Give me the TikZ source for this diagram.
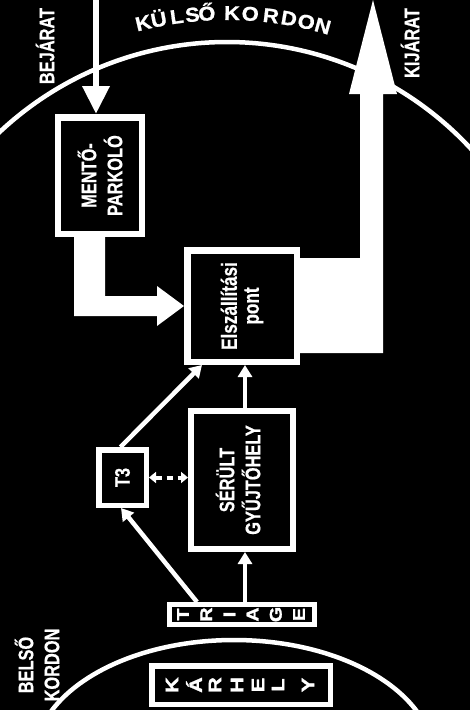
\documentclass[tikz,border=0pt]{standalone}
\usepackage{fontspec}
\setmainfont{Liberation Sans}
\newfontfamily\narrowfont{Liberation Sans Bold}[FakeStretch=0.78, FakeBold=0.6]
\newfontfamily\heavyfont{Liberation Sans Bold}[FakeBold=1.4]
\newfontfamily\arcfont{Liberation Sans Bold}[FakeBold=0.8, FakeStretch=1.1]
\usetikzlibrary{arrows.meta,calc}
\begin{document}
\begin{tikzpicture}[x=1pt,y=-1pt,
  box/.style={draw=white, line width=6.5pt, fill=black, inner sep=0pt},
  lbl/.style={text=white, font=\narrowfont\fontsize{21}{26}\selectfont, align=center, rotate=90, inner sep=0pt},
  arcl/.style={text=white, font=\arcfont\fontsize{20}{22}\selectfont, anchor=base, inner sep=0pt},
  letr/.style={text=white, font=\heavyfont\fontsize{17}{18}\selectfont, rotate=90, xscale=1.15, inner sep=0pt},
  conn/.style={draw=white, line width=4.5pt, -{Triangle[width=14pt,length=12pt]}},
  cordon/.style={draw=white, line width=4.5pt}]

\fill[black] (0,0) rectangle (470,710);
\useasboundingbox (0,0) rectangle (470,710);

\begin{scope}
  \clip (0,0) rectangle (470,710);
  \draw[cordon] (227,374) ++(215:332) arc[start angle=215, end angle=325, radius=332];
  \draw[cordon] (234,760) ellipse[x radius=200, y radius=120];
\end{scope}

% boxes
\node[box, minimum width=84pt, minimum height=116.5pt] (mp) at (100,175.5) {};
\node[box, minimum width=109.5pt, minimum height=111.5pt] (elsz) at (242,306) {};
\node[box, line width=5.5pt, minimum width=47.5pt, minimum height=55.5pt] (t3) at (122.5,477.5) {};
\node[box, line width=6pt, minimum width=102pt, minimum height=138pt] (sg) at (242,480) {};
\node[box, line width=5pt, minimum width=145pt, minimum height=20pt] (triage) at (242,614.5) {};
\node[box, line width=5.5pt, minimum width=178.5pt, minimum height=38.5pt] (karhely) at (241,685) {};

% entry arrow
\coordinate (entry) at (96,0);
\draw[white, line width=6.5pt, -{Triangle[width=26pt,length=28pt]}] (entry) -- (entry |- mp.north);

% thick arrow mentoparkolo -> elszallitasi pont
\fill[white] ($(mp.south)+(-26,-1)$) -- ++(31,0) |- ($(elsz.west)+(-27,-10)$) -- ++(0,-10)
  -- (elsz.west) -- ++(-27,20) -- ++(0,-10) -- ($(mp.south)+(-26,79)$) -- cycle;

% exit arrow
\coordinate (exittip) at (373,0);
\fill[white] ($(elsz.east)+(-1,-48)$) -| ($(exittip)+(-13,94)$) -- ++(-11,0) -- (exittip)
  -- ++(24,94) -- ++(-14,0) |- ($(elsz.east)+(-1,47)$) -- cycle;

% thin connectors
\draw[conn] ([xshift=-45pt]triage.north) -- ([xshift=-1.5pt]t3.south);
\draw[conn] ([xshift=3pt]triage.north) -- ([xshift=3pt]sg.south);
\draw[conn] ([xshift=-2pt]t3.north) -- ([xshift=-40pt]elsz.south);
\draw[conn] ([xshift=3pt]sg.north) -- ([xshift=3pt]elsz.south);
\draw[white, line width=4pt, dash pattern=on 6pt off 5pt,
  {Triangle[width=11pt,length=7pt]}-{Triangle[width=11pt,length=7pt]}] (t3.east) -- (t3.east -| sg.west);

% labels
\node[lbl] (bejarat) at (45,46) {BEJÁRAT};
\node[lbl] (kijarat) at (410,43) {KIJÁRAT};
\node[lbl] (belso) at (37,665) {BELSŐ\\KORDON};
\node[lbl] (mptext) at (mp.center) {MENTŐ-\\PARKOLÓ};
\node[lbl, font=\narrowfont\fontsize{22}{22}\selectfont] (elsztext) at (elsz.center) {Elszállítási\\pont};
\node[lbl] (sgtext) at ($(sg.center)+(-4,0)$) {SÉRÜLT\\GYŰJTŐHELY};
\node[lbl] (t3text) at (t3.center) {T3};

\foreach \ch [count=\i] in {T,R,I,A,G,E}
  \node[letr] (tr\i) at ({183+23.2*(\i-1)},614.5) {\ch};
\foreach \ch/\xx [count=\i] in {K/172,Á/194,R/215,H/237,E/258,L/278,Y/308}
  \node[letr, font=\heavyfont\fontsize{18}{18}\selectfont, xscale=1.05] (kh\i) at (\xx,685) {\ch};

\foreach \ch/\a [count=\i] in {K/-13.4,Ü/-10.9,L/-8.0,S/-5.5,Ő/-3.2,K/0.8,O/3.7,R/7.0,D/9.9,O/12.7,N/15.4}
  \node[arcl, rotate=-\a] (ak\i) at ($(227,374)+(270+\a:354)$) {\ch};
\end{tikzpicture}
\end{document}
